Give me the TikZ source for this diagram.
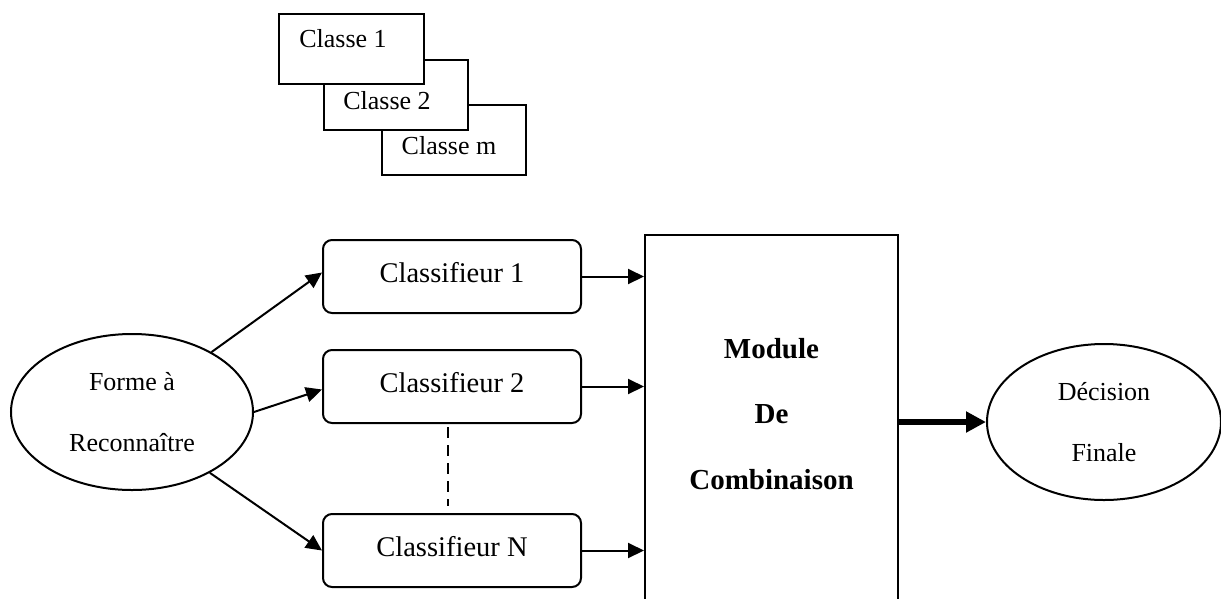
\documentclass[tikz,border=0pt]{standalone}
\usepackage{fontspec}
\setmainfont{Liberation Serif}
\usetikzlibrary{arrows.meta,shapes.geometric}
\begin{document}
\begin{tikzpicture}[x=1pt,y=-1pt,
  line width=2pt,
  classbox/.style={draw,fill=white,minimum width=145pt,minimum height=70pt,inner sep=0pt},
  classtext/.style={font=\fontsize{26}{30}\selectfont,inner sep=0pt},
  clf/.style={draw,rounded corners=9pt,minimum width=258pt,minimum height=73pt,
    inner sep=0pt,text depth=9pt,font=\fontsize{28.5}{32}\selectfont},
  oval/.style={draw,ellipse,inner sep=0pt,align=center,font=\fontsize{26}{61}\selectfont},
  link/.style={-{Triangle[length=16pt,width=15pt]}},
]
\useasboundingbox (0,0) rectangle (1221,598);
\clip (0,0) rectangle (1221,598);

% stacked class cards, back to front
\node[classbox,anchor=north west,minimum width=144pt] (k3) at (381,104) {};
\node[classbox,anchor=north west,minimum width=144pt] (k2) at (323,59) {};
\node[classbox,anchor=north west] (k1) at (278,13) {};
\node[classtext] (t1) at (343,39) {Classe 1};
\node[classtext] (t2) at (387,101) {Classe 2};
\node[classtext] (tm) at (449,146) {Classe m};

% input pattern
\node[oval,minimum width=242pt,minimum height=156pt] (forme) at (132,412) {Forme à\\Reconnaître};

% classifiers
\node[clf] (c1) at (452,276.5) {Classifieur 1};
\node[clf] (c2) at (452,386.5) {Classifieur 2};
\node[clf] (cN) at (452,550.5) {Classifieur N};

% combination module (runs past the lower edge)
\node[draw,anchor=north,minimum width=253pt,minimum height=420pt,inner sep=0pt] (module) at (771.5,234) {};
\node[align=center,inner sep=0pt,font=\fontsize{29}{65.5}\selectfont\bfseries] (mtext) at (771.5,414) {Module\\De\\Combinaison};

% final decision
\node[oval,minimum width=234pt,minimum height=156pt] (dec) at (1104,422) {Décision\\Finale};

% connectors
\draw[link] (forme.37.6) -- ([yshift=4pt]c1.west);
\draw[link] (forme.east) -- ([yshift=-3pt]c2.west);
\draw[link] (forme.-38) -- (cN.west);
\draw[link] (c1.east) -- (c1.east -| module.west);
\draw[link] (c2.east) -- (c2.east -| module.west);
\draw[link] (cN.east) -- (cN.east -| module.west);
\draw[dash pattern=on 11pt off 7pt,shorten <=3pt,shorten >=7pt]
  ([xshift=-4pt]c2.south) -- ([xshift=-4pt]cN.north);
\draw[line width=6pt,-{Triangle[length=20pt,width=20pt]}] (dec.west -| module.east) -- (dec.west);
\end{tikzpicture}
\end{document}
